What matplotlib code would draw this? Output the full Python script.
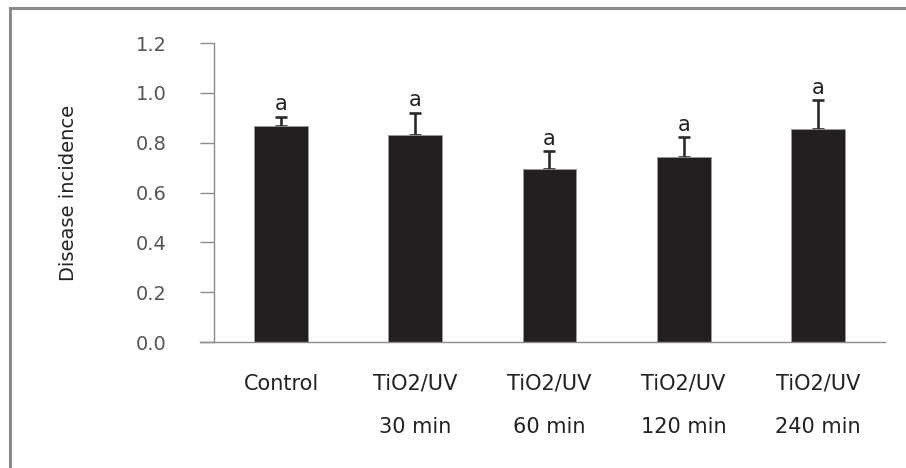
import matplotlib.pyplot as plt
from matplotlib.lines import Line2D
import numpy as np

# data
groups_line1 = ["Control", "TiO2/UV", "TiO2/UV", "TiO2/UV", "TiO2/UV"]
groups_line2 = ["", "30 min", "60 min", "120 min", "240 min"]
incidence = [0.868, 0.829, 0.693, 0.741, 0.856]
err_upper = [0.035, 0.089, 0.072, 0.080, 0.114]
letters = ["a", "a", "a", "a", "a"]
yticks = [0.0, 0.2, 0.4, 0.6, 0.8, 1.0, 1.2]

plt.rcParams["font.family"] = ["DejaVu Sans"]

fig = plt.figure(figsize=(9.06, 4.68), dpi=100)
ax = fig.add_axes([0.2362, 0.2692, 0.7406, 0.6389])

x = np.arange(len(incidence))
ax.bar(x, incidence, width=0.4, color="#231f20", edgecolor="#9a9a9a",
       linewidth=0.6, zorder=2)
# drawn under the bars so only the upper half shows
ax.errorbar(x, incidence, yerr=[np.zeros(len(x)), err_upper], fmt="none",
            ecolor="#2a2a2a", elinewidth=1.9, capsize=4.3, capthick=1.9,
            zorder=1)

for xi, v, e, s in zip(x, incidence, err_upper, letters):
    ax.annotate(s, (xi, v + e), xytext=(0, 2), textcoords="offset points",
                ha="center", va="bottom", fontsize=15, color="#222222")

ax.set_xlim(-0.5, 4.5)
ax.set_ylim(0, 1.2)
ax.set_yticks(yticks)
ax.set_yticklabels([f"{t:.1f}" for t in yticks])
ax.tick_params(axis="y", direction="out", length=10, width=1.0,
               color="#8c8c8c", pad=24, labelsize=14, labelcolor="#555555")

ax.set_xticks(x)
ax.set_xticklabels([f"{a}\n{b}" for a, b in zip(groups_line1, groups_line2)],
                   linespacing=2.45)
ax.tick_params(axis="x", length=0, pad=23, labelsize=15, labelcolor="#222222")
for lab in ax.get_xticklabels():
    lab.set_verticalalignment("top")

for side in ["top", "right", "bottom"]:
    ax.spines[side].set_visible(False)
ax.spines["left"].set_color("#8c8c8c")
ax.spines["left"].set_linewidth(1.0)

# x axis line runs out under the y ticks
ax.plot([-0.605, 4.5], [0, 0], color="#8c8c8c", lw=1.0, clip_on=False,
        zorder=4)

ax.set_ylabel("Disease incidence", fontsize=14, color="#222222")
ax.yaxis.set_label_coords(-0.203, 0.5)

# gray frame on the top and left of the figure
fig.add_artist(Line2D([9.5 / 906, 1.0], [1 - 8.3 / 468, 1 - 8.3 / 468],
                      color="#8a8a8a", lw=2.2))
fig.add_artist(Line2D([10 / 906, 10 / 906], [0.0, 1 - 7.5 / 468],
                      color="#8a8a8a", lw=2.2))

fig.savefig("out.png", dpi=100)
